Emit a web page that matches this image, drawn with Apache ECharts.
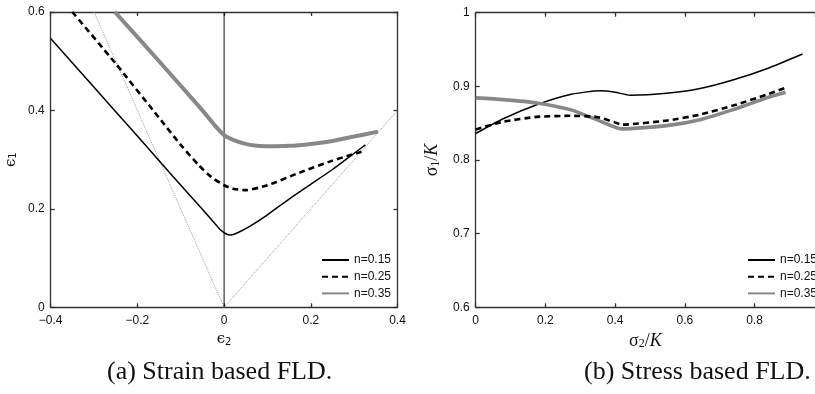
<!DOCTYPE html>
<html>
<head>
<meta charset="utf-8">
<script src="https://cdn.jsdelivr.net/npm/echarts@6/dist/echarts.min.js"></script>
<style>
html,body{margin:0;padding:0;background:#fff;}
#chart{width:815px;height:394px;}
</style>
</head>
<body>
<div id="chart"></div>
<script>
// ---- Data: (a) strain based FLD ----
var strainX15 = [-0.4, -0.3, -0.2, -0.12, -0.06, -0.025, -0.008, 0.005, 0.015, 0.03, 0.06, 0.1, 0.15, 0.2, 0.25, 0.3, 0.326];
var strainY15 = [0.546, 0.447, 0.348, 0.268, 0.209, 0.174, 0.157, 0.149, 0.147, 0.151, 0.165, 0.188, 0.22, 0.25, 0.28, 0.313, 0.33];
var strainX25 = [-0.35, -0.25, -0.15, -0.1, -0.06, -0.03, 0, 0.02, 0.05, 0.1, 0.175, 0.25, 0.29, 0.317];
var strainY25 = [0.6, 0.495, 0.385, 0.33, 0.29, 0.265, 0.248, 0.241, 0.238, 0.248, 0.274, 0.298, 0.309, 0.316];
var strainX35 = [-0.252, -0.15, -0.05, -0.02, 0, 0.03, 0.06, 0.1, 0.15, 0.2, 0.25, 0.3, 0.355];
var strainY35 = [0.6, 0.5, 0.4, 0.368, 0.35, 0.337, 0.33, 0.327, 0.328, 0.332, 0.338, 0.347, 0.357];
// reference paths: uniaxial (e1=-2e2), equibiaxial (e1=e2), plane strain (e2=0)
var uniaxialX = [-0.3, 0];
var uniaxialY = [0.6, 0];
var equibiaxialX = [0, 0.4];
var equibiaxialY = [0, 0.4];
var planeStrainX = [0, 0];
var planeStrainY = [0, 0.6];

// ---- Data: (b) stress based FLD ----
var stressX15 = [0, 0.079, 0.175, 0.271, 0.357, 0.4, 0.443, 0.548, 0.644, 0.74, 0.835, 0.938];
var stressY15 = [0.836, 0.856, 0.875, 0.889, 0.894, 0.892, 0.888, 0.8905, 0.897, 0.909, 0.924, 0.944];
var stressX25 = [0, 0.079, 0.175, 0.271, 0.347, 0.4, 0.419, 0.548, 0.644, 0.739, 0.835, 0.892];
var stressY25 = [0.8415, 0.852, 0.8585, 0.86, 0.8585, 0.851, 0.848, 0.8535, 0.8617, 0.874, 0.8887, 0.8986];
var stressX35 = [0, 0.079, 0.175, 0.271, 0.347, 0.419, 0.548, 0.644, 0.739, 0.835, 0.889];
var stressY35 = [0.8843, 0.882, 0.8775, 0.8684, 0.8548, 0.8422, 0.8467, 0.8548, 0.8684, 0.8843, 0.892];

var seriesNames = ['n=0.15', 'n=0.25', 'n=0.35'];
var captions = ['(a) Strain based FLD.', '(b) Stress based FLD.'];

function zip(xs, ys) { return xs.map(function (x, i) { return [x, ys[i]]; }); }
function fmt(v) {
  var r = Number(v.toFixed(2));
  return r < 0 ? '\u2212' + String(-r) : String(r);
}

var FONT = 'Liberation Sans, Arial, sans-serif';
var axisLineStyle = { color: '#333', width: 1.3 };
var labelStyle = { color: '#111', fontSize: 12, fontFamily: FONT };

function mainX(grid, min, max, interval, name, nameRich, showMax) {
  return {
    type: 'value', gridIndex: grid, min: min, max: max, interval: interval, position: 'bottom',
    axisLine: { show: true, onZero: false, lineStyle: axisLineStyle },
    axisTick: { show: true, inside: true, length: 4, lineStyle: axisLineStyle },
    axisLabel: Object.assign({ margin: 7, formatter: fmt, showMaxLabel: showMax }, labelStyle),
    splitLine: { show: false },
    name: name, nameLocation: 'middle', nameGap: 24,
    nameTextStyle: { rich: nameRich, fontSize: 15, color: '#111' }
  };
}
function topX(grid, min, max, interval) {
  return {
    type: 'value', gridIndex: grid, min: min, max: max, interval: interval, position: 'top',
    axisLine: { show: true, onZero: false, lineStyle: axisLineStyle },
    axisTick: { show: true, inside: true, length: 4, lineStyle: axisLineStyle },
    axisLabel: { show: false }, splitLine: { show: false }
  };
}
function mainY(grid, min, max, interval, name, nameRich, gap) {
  return {
    type: 'value', gridIndex: grid, min: min, max: max, interval: interval, position: 'left',
    axisLine: { show: true, onZero: false, lineStyle: axisLineStyle },
    axisTick: { show: true, inside: true, length: 4, lineStyle: axisLineStyle },
    axisLabel: Object.assign({ margin: 6, formatter: fmt }, labelStyle),
    splitLine: { show: false },
    name: name, nameLocation: 'middle', nameGap: gap,
    nameTextStyle: { rich: nameRich, fontSize: 15, color: '#111' }
  };
}
function rightY(grid, min, max, interval, showLine) {
  return {
    type: 'value', gridIndex: grid, min: min, max: max, interval: interval, position: 'right',
    axisLine: { show: showLine, onZero: false, lineStyle: axisLineStyle },
    axisTick: { show: showLine, inside: true, length: 4, lineStyle: axisLineStyle },
    axisLabel: { show: false }, splitLine: { show: false }
  };
}

var epsRich = {
  e: { fontFamily: 'DejaVu Serif, serif', fontSize: 15, color: '#111' },
  s: { fontFamily: 'DejaVu Sans, sans-serif', fontSize: 10, color: '#111', padding: [6, 0, 0, 0] }
};
var sigRich = {
  e: { fontFamily: 'Liberation Serif, serif', fontSize: 18, color: '#111' },
  s: { fontFamily: 'Liberation Serif, serif', fontSize: 12, color: '#111', padding: [7, 0, 0, 0] },
  k: { fontFamily: 'Liberation Serif, serif', fontSize: 18, fontStyle: 'italic', color: '#111' }
};

function lineSeries(name, xi, yi, xs, ys, color, width, type, z) {
  return {
    name: name, type: 'line', xAxisIndex: xi, yAxisIndex: yi,
    data: zip(xs, ys), showSymbol: false, symbol: 'none', smooth: 0.2,
    lineStyle: { color: color, width: width, type: type },
    itemStyle: { color: color }, z: z || 2, silent: true
  };
}
function refSeries(xi, yi, xs, ys, color, width, type) {
  return {
    name: 'ref', type: 'line', xAxisIndex: xi, yAxisIndex: yi,
    data: zip(xs, ys), showSymbol: false, symbol: 'none',
    lineStyle: { color: color, width: width, type: type }, z: 1, silent: true
  };
}
function legendOpt(left) {
  return {
    data: seriesNames, orient: 'vertical', left: left, top: 249, selectedMode: false,
    itemWidth: 27, itemHeight: 12, itemGap: 4.7,
    itemStyle: { opacity: 0 },
    textStyle: { fontFamily: FONT, fontSize: 12, color: '#111' }
  };
}

var dashType = [6, 4];
var xMaxB = 0.9736; // right panel is cut at the image edge
var chart = echarts.init(document.getElementById('chart'), null, { renderer: 'canvas' });
chart.setOption({
  animation: false,
  backgroundColor: '#fff',
  grid: [
    { left: 50.7, top: 12, width: 346.8, height: 295.3 },
    { left: 475.7, top: 12.7, right: 0, height: 294.6 }
  ],
  xAxis: [
    mainX(0, -0.4, 0.4, 0.2, '{e|\u03F5}{s|2}', epsRich, true),
    topX(0, -0.4, 0.4, 0.2),
    mainX(1, 0, xMaxB, 0.2, '{e|\u03C3}{s|2}{e|/}{k|K}', sigRich, false),
    topX(1, 0, xMaxB, 0.2)
  ],
  yAxis: [
    mainY(0, 0, 0.6, 0.2, '{e|\u03F5}{s|1}', epsRich, 32),
    rightY(0, 0, 0.6, 0.2, true),
    mainY(1, 0.6, 1, 0.1, '{e|\u03C3}{s|1}{e|/}{k|K}', sigRich, 34),
    rightY(1, 0.6, 1, 0.1, false)
  ],
  legend: [legendOpt(316), legendOpt(742)],
  graphic: [
    { type: 'text', left: 107, top: 359, style: { text: captions[0], font: '26px "Liberation Serif", serif', fill: '#111' } },
    { type: 'text', left: 584, top: 359, style: { text: captions[1], font: '26px "Liberation Serif", serif', fill: '#111' } }
  ],
  series: [
    refSeries(0, 0, uniaxialX, uniaxialY, '#9a9a9a', 1, 'dotted'),
    refSeries(0, 0, equibiaxialX, equibiaxialY, '#9a9a9a', 1, 'dotted'),
    refSeries(0, 0, planeStrainX, planeStrainY, '#111', 1, 'solid'),
    lineSeries(seriesNames[0], 0, 0, strainX15, strainY15, '#000', 1.5, 'solid'),
    lineSeries(seriesNames[1], 0, 0, strainX25, strainY25, '#000', 2.6, dashType),
    lineSeries(seriesNames[2], 0, 0, strainX35, strainY35, '#888', 4, 'solid'),
    lineSeries(seriesNames[0], 2, 2, stressX15, stressY15, '#000', 1.5, 'solid'),
    lineSeries(seriesNames[2], 2, 2, stressX35, stressY35, '#888', 3.6, 'solid'),
    lineSeries(seriesNames[1], 2, 2, stressX25, stressY25, '#000', 2.6, dashType, 3)
  ]
});
</script>
</body>
</html>
